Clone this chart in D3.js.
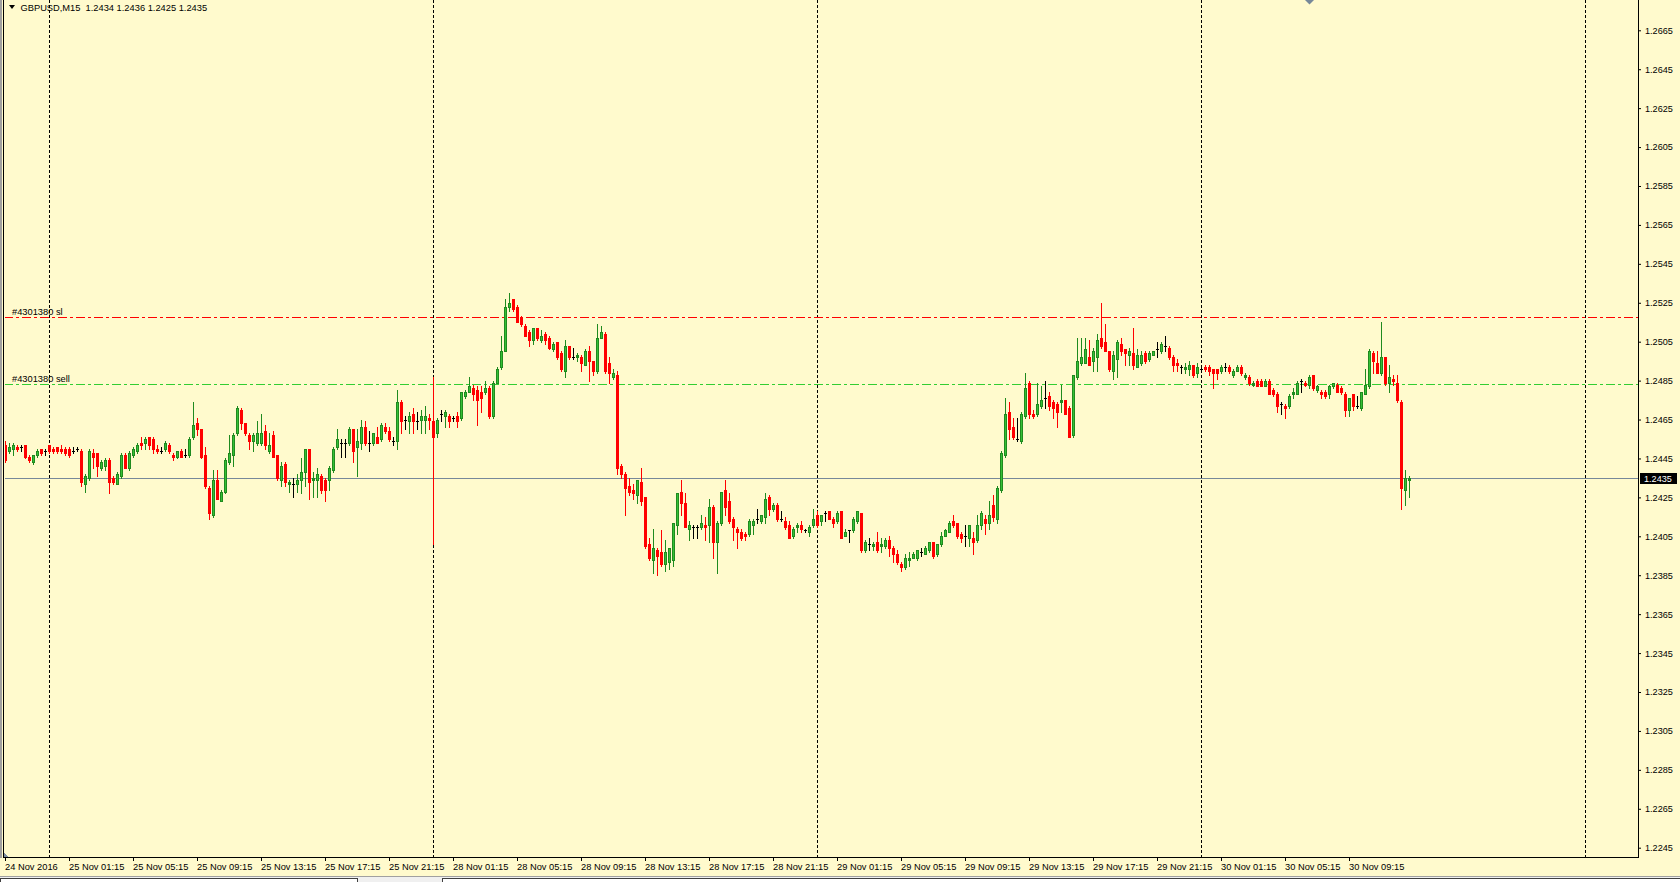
<!DOCTYPE html>
<html><head><meta charset="utf-8">
<script src="https://cdn.jsdelivr.net/npm/d3@7"></script>
<style>html,body{margin:0;padding:0;background:#FFFACD;overflow:hidden}text{font-family:"Liberation Sans",Arial,sans-serif;white-space:pre}</style>
</head><body><svg id="c" width="1680" height="882"></svg>
<script>
const symbol = "GBPUSD", timeframe = "M15";
const open = [
1.2452,1.2449,1.2450,1.2451,1.2451,1.2452,1.2446,1.2443,1.2447,1.2450,
1.2449,1.2452,1.2450,1.2451,1.2450,1.2450,1.2450,1.2449,1.2450,1.2449,
1.2432,1.2435,1.2448,1.2448,1.2440,1.2441,1.2444,1.2435,1.2432,1.2436,
1.2447,1.2440,1.2447,1.2449,1.2453,1.2453,1.2456,1.2455,1.2450,1.2449,
1.2450,1.2452,1.2447,1.2446,1.2449,1.2447,1.2447,1.2456,1.2463,1.2460,
1.2447,1.2430,1.2416,1.2434,1.2423,1.2428,1.2443,1.2447,1.2458,1.2470,
1.2463,1.2457,1.2454,1.2453,1.2453,1.2459,1.2449,1.2457,1.2447,1.2434,
1.2442,1.2432,1.2432,1.2432,1.2434,1.2438,1.2450,1.2434,1.2434,1.2436,
1.2434,1.2434,1.2439,1.2451,1.2453,1.2453,1.2453,1.2460,1.2451,1.2453,
1.2461,1.2453,1.2453,1.2456,1.2455,1.2461,1.2459,1.2454,1.2454,1.2474,
1.2465,1.2464,1.2468,1.2464,1.2465,1.2465,1.2466,1.2464,1.2458,1.2468,
1.2467,1.2467,1.2466,1.2467,1.2466,1.2477,1.2479,1.2481,1.2480,1.2479,
1.2479,1.2481,1.2467,1.2484,1.2492,1.2500,1.2523,1.2527,1.2523,1.2517,
1.2513,1.2510,1.2506,1.2512,1.2506,1.2509,1.2507,1.2501,1.2505,1.2499,
1.2490,1.2503,1.2497,1.2497,1.2497,1.2493,1.2500,1.2495,1.2490,1.2507,
1.2509,1.2494,1.2487,1.2488,1.2441,1.2437,1.2431,1.2429,1.2426,1.2433,
1.2425,1.2401,1.2393,1.2398,1.2397,1.2391,1.2392,1.2393,1.2411,1.2428,
1.2422,1.2409,1.2410,1.2410,1.2410,1.2411,1.2411,1.2420,1.2402,1.2412,
1.2429,1.2423,1.2414,1.2409,1.2407,1.2406,1.2406,1.2411,1.2414,1.2413,
1.2415,1.2425,1.2419,1.2421,1.2414,1.2413,1.2411,1.2405,1.2410,1.2411,
1.2408,1.2407,1.2411,1.2416,1.2413,1.2417,1.2418,1.2414,1.2413,1.2418,
1.2405,1.2408,1.2408,1.2413,1.2417,1.2398,1.2401,1.2400,1.2402,1.2400,
1.2400,1.2403,1.2399,1.2396,1.2391,1.2389,1.2393,1.2394,1.2394,1.2397,
1.2396,1.2398,1.2402,1.2396,1.2401,1.2405,1.2407,1.2413,1.2412,1.2406,
1.2405,1.2404,1.2404,1.2403,1.2411,1.2414,1.2412,1.2421,1.2414,1.2429,
1.2447,1.2469,1.2461,1.2455,1.2454,1.2467,1.2484,1.2468,1.2468,1.2472,
1.2476,1.2477,1.2474,1.2473,1.2474,1.2475,1.2471,1.2457,1.2487,1.2494,
1.2494,1.2497,1.2495,1.2497,1.2507,1.2505,1.2500,1.2490,1.2496,1.2504,
1.2501,1.2498,1.2499,1.2492,1.2494,1.2499,1.2496,1.2498,1.2501,1.2500,
1.2503,1.2502,1.2497,1.2494,1.2492,1.2491,1.2491,1.2493,1.2489,1.2491,
1.2492,1.2492,1.2491,1.2491,1.2490,1.2492,1.2492,1.2488,1.2490,1.2492,
1.2487,1.2487,1.2483,1.2485,1.2485,1.2482,1.2485,1.2480,1.2478,1.2473,
1.2472,1.2472,1.2478,1.2478,1.2485,1.2484,1.2483,1.2488,1.2480,1.2479,
1.2479,1.2478,1.2482,1.2483,1.2481,1.2478,1.2470,1.2478,1.2472,1.2471,
1.2478,1.2482,1.2499,1.2494,1.2489,1.2497,1.2484,1.2486,1.2484,1.2474,
1.2429,1.2434];
const high = [
1.2454,1.2453,1.2453,1.2452,1.2452,1.2452,1.2447,1.2447,1.2450,1.2450,
1.2450,1.2452,1.2451,1.2451,1.2452,1.2451,1.2451,1.2451,1.2451,1.2450,
1.2437,1.2450,1.2450,1.2448,1.2444,1.2445,1.2445,1.2436,1.2438,1.2448,
1.2448,1.2449,1.2451,1.2453,1.2456,1.2456,1.2456,1.2456,1.2452,1.2451,
1.2454,1.2453,1.2448,1.2449,1.2450,1.2450,1.2456,1.2474,1.2466,1.2460,
1.2451,1.2431,1.2439,1.2439,1.2429,1.2445,1.2457,1.2458,1.2472,1.2471,
1.2463,1.2458,1.2458,1.2464,1.2468,1.2462,1.2458,1.2459,1.2447,1.2443,
1.2443,1.2434,1.2435,1.2437,1.2445,1.2450,1.2450,1.2438,1.2440,1.2437,
1.2435,1.2441,1.2451,1.2460,1.2455,1.2455,1.2461,1.2460,1.2460,1.2465,
1.2464,1.2459,1.2458,1.2461,1.2463,1.2463,1.2461,1.2456,1.2480,1.2475,
1.2467,1.2469,1.2471,1.2469,1.2470,1.2472,1.2468,1.2487,1.2466,1.2470,
1.2470,1.2468,1.2467,1.2469,1.2479,1.2480,1.2487,1.2483,1.2482,1.2482,
1.2485,1.2482,1.2485,1.2492,1.2508,1.2527,1.2530,1.2527,1.2524,1.2518,
1.2514,1.2511,1.2512,1.2512,1.2511,1.2510,1.2508,1.2505,1.2505,1.2500,
1.2506,1.2503,1.2502,1.2499,1.2498,1.2501,1.2503,1.2495,1.2514,1.2513,
1.2510,1.2497,1.2491,1.2490,1.2442,1.2438,1.2435,1.2432,1.2434,1.2440,
1.2425,1.2404,1.2409,1.2399,1.2408,1.2403,1.2399,1.2412,1.2427,1.2434,
1.2427,1.2413,1.2411,1.2411,1.2416,1.2415,1.2424,1.2421,1.2413,1.2428,
1.2434,1.2427,1.2415,1.2410,1.2409,1.2407,1.2414,1.2414,1.2419,1.2416,
1.2427,1.2426,1.2422,1.2422,1.2418,1.2415,1.2413,1.2410,1.2412,1.2413,
1.2409,1.2411,1.2419,1.2418,1.2416,1.2418,1.2418,1.2415,1.2418,1.2418,
1.2409,1.2408,1.2415,1.2418,1.2417,1.2403,1.2404,1.2402,1.2407,1.2404,
1.2404,1.2405,1.2400,1.2398,1.2392,1.2396,1.2397,1.2397,1.2398,1.2399,
1.2400,1.2402,1.2402,1.2401,1.2407,1.2409,1.2413,1.2416,1.2412,1.2407,
1.2411,1.2411,1.2407,1.2416,1.2418,1.2416,1.2423,1.2426,1.2431,1.2449,
1.2476,1.2474,1.2466,1.2466,1.2469,1.2489,1.2485,1.2470,1.2484,1.2482,
1.2485,1.2479,1.2475,1.2474,1.2483,1.2475,1.2472,1.2488,1.2507,1.2507,
1.2507,1.2506,1.2502,1.2509,1.2525,1.2514,1.2500,1.2500,1.2506,1.2507,
1.2501,1.2502,1.2512,1.2501,1.2500,1.2500,1.2500,1.2500,1.2505,1.2505,
1.2508,1.2503,1.2498,1.2496,1.2493,1.2494,1.2495,1.2493,1.2494,1.2493,
1.2493,1.2493,1.2491,1.2491,1.2493,1.2494,1.2493,1.2491,1.2493,1.2493,
1.2489,1.2488,1.2485,1.2486,1.2486,1.2486,1.2486,1.2481,1.2479,1.2474,
1.2473,1.2478,1.2481,1.2485,1.2486,1.2485,1.2488,1.2488,1.2483,1.2480,
1.2480,1.2483,1.2484,1.2484,1.2482,1.2479,1.2476,1.2478,1.2477,1.2479,
1.2491,1.2501,1.2500,1.2500,1.2515,1.2497,1.2493,1.2488,1.2488,1.2475,
1.2439,1.2436];
const low = [
1.2443,1.2448,1.2447,1.2449,1.2449,1.2445,1.2443,1.2442,1.2446,1.2447,
1.2447,1.2448,1.2448,1.2448,1.2448,1.2447,1.2446,1.2448,1.2449,1.2431,
1.2428,1.2434,1.2440,1.2436,1.2439,1.2439,1.2427,1.2432,1.2432,1.2435,
1.2440,1.2439,1.2446,1.2448,1.2450,1.2450,1.2450,1.2448,1.2448,1.2448,
1.2449,1.2448,1.2444,1.2445,1.2446,1.2446,1.2446,1.2455,1.2457,1.2445,
1.2430,1.2414,1.2415,1.2424,1.2423,1.2427,1.2442,1.2441,1.2457,1.2460,
1.2457,1.2450,1.2449,1.2452,1.2452,1.2450,1.2448,1.2446,1.2434,1.2431,
1.2431,1.2428,1.2425,1.2428,1.2427,1.2431,1.2424,1.2425,1.2425,1.2427,
1.2423,1.2429,1.2438,1.2450,1.2446,1.2446,1.2452,1.2443,1.2436,1.2450,
1.2452,1.2449,1.2452,1.2453,1.2454,1.2458,1.2454,1.2452,1.2450,1.2458,
1.2460,1.2458,1.2458,1.2460,1.2458,1.2458,1.2460,1.2401,1.2456,1.2464,
1.2461,1.2461,1.2464,1.2461,1.2465,1.2476,1.2479,1.2475,1.2462,1.2469,
1.2478,1.2466,1.2466,1.2484,1.2491,1.2500,1.2521,1.2521,1.2515,1.2513,
1.2508,1.2503,1.2504,1.2506,1.2505,1.2504,1.2501,1.2500,1.2496,1.2490,
1.2487,1.2496,1.2496,1.2495,1.2490,1.2493,1.2485,1.2488,1.2489,1.2507,
1.2489,1.2484,1.2486,1.2437,1.2435,1.2416,1.2426,1.2424,1.2422,1.2421,
1.2399,1.2393,1.2386,1.2385,1.2390,1.2387,1.2388,1.2390,1.2406,1.2416,
1.2410,1.2403,1.2404,1.2404,1.2409,1.2403,1.2402,1.2394,1.2386,1.2411,
1.2416,1.2412,1.2403,1.2399,1.2403,1.2403,1.2405,1.2406,1.2412,1.2412,
1.2412,1.2416,1.2418,1.2413,1.2413,1.2409,1.2404,1.2404,1.2407,1.2407,
1.2407,1.2405,1.2410,1.2410,1.2411,1.2413,1.2414,1.2410,1.2412,1.2404,
1.2405,1.2402,1.2407,1.2412,1.2397,1.2397,1.2398,1.2398,1.2397,1.2397,
1.2399,1.2395,1.2392,1.2391,1.2387,1.2388,1.2390,1.2394,1.2393,1.2395,
1.2396,1.2397,1.2394,1.2395,1.2400,1.2405,1.2407,1.2410,1.2404,1.2402,
1.2400,1.2400,1.2396,1.2402,1.2409,1.2406,1.2409,1.2413,1.2412,1.2428,
1.2446,1.2455,1.2455,1.2454,1.2453,1.2466,1.2466,1.2466,1.2467,1.2471,
1.2471,1.2470,1.2466,1.2461,1.2469,1.2468,1.2456,1.2456,1.2486,1.2493,
1.2494,1.2493,1.2490,1.2490,1.2502,1.2500,1.2490,1.2486,1.2487,1.2498,
1.2493,1.2493,1.2491,1.2492,1.2493,1.2494,1.2495,1.2498,1.2497,1.2499,
1.2500,1.2496,1.2490,1.2490,1.2489,1.2489,1.2488,1.2487,1.2487,1.2490,
1.2490,1.2488,1.2481,1.2486,1.2489,1.2490,1.2489,1.2487,1.2490,1.2488,
1.2486,1.2483,1.2482,1.2482,1.2482,1.2482,1.2478,1.2477,1.2469,1.2468,
1.2466,1.2471,1.2476,1.2478,1.2479,1.2482,1.2481,1.2480,1.2479,1.2476,
1.2476,1.2476,1.2481,1.2479,1.2478,1.2467,1.2467,1.2470,1.2471,1.2470,
1.2478,1.2481,1.2489,1.2489,1.2488,1.2483,1.2479,1.2483,1.2474,1.2419,
1.2421,1.2425];
const close = [
1.2444,1.2451,1.2452,1.2450,1.2451,1.2446,1.2444,1.2447,1.2449,1.2448,
1.2449,1.2449,1.2449,1.2449,1.2449,1.2448,1.2447,1.2449,1.2450,1.2433,
1.2436,1.2449,1.2446,1.2441,1.2443,1.2444,1.2433,1.2433,1.2437,1.2447,
1.2440,1.2448,1.2450,1.2452,1.2452,1.2455,1.2452,1.2450,1.2449,1.2449,
1.2453,1.2449,1.2446,1.2449,1.2446,1.2447,1.2455,1.2462,1.2460,1.2446,
1.2431,1.2417,1.2434,1.2424,1.2428,1.2444,1.2448,1.2457,1.2471,1.2463,
1.2458,1.2454,1.2457,1.2458,1.2458,1.2452,1.2452,1.2446,1.2435,1.2441,
1.2433,1.2433,1.2432,1.2434,1.2438,1.2450,1.2433,1.2435,1.2437,1.2429,
1.2429,1.2440,1.2450,1.2455,1.2453,1.2453,1.2460,1.2449,1.2454,1.2461,
1.2453,1.2453,1.2458,1.2453,1.2462,1.2459,1.2455,1.2454,1.2474,1.2464,
1.2465,1.2467,1.2464,1.2464,1.2467,1.2467,1.2465,1.2456,1.2465,1.2468,
1.2469,1.2464,1.2466,1.2464,1.2479,1.2479,1.2482,1.2478,1.2475,1.2476,
1.2481,1.2467,1.2484,1.2491,1.2500,1.2523,1.2525,1.2522,1.2515,1.2514,
1.2508,1.2506,1.2512,1.2507,1.2508,1.2506,1.2502,1.2504,1.2497,1.2491,
1.2503,1.2497,1.2497,1.2498,1.2494,1.2500,1.2495,1.2490,1.2507,1.2510,
1.2490,1.2489,1.2489,1.2440,1.2437,1.2430,1.2428,1.2427,1.2434,1.2423,
1.2400,1.2394,1.2399,1.2395,1.2391,1.2397,1.2399,1.2412,1.2427,1.2422,
1.2410,1.2411,1.2410,1.2410,1.2412,1.2410,1.2420,1.2402,1.2412,1.2428,
1.2420,1.2413,1.2410,1.2407,1.2404,1.2405,1.2413,1.2413,1.2414,1.2416,
1.2424,1.2419,1.2421,1.2414,1.2414,1.2410,1.2404,1.2409,1.2411,1.2409,
1.2408,1.2410,1.2414,1.2411,1.2416,1.2417,1.2414,1.2412,1.2417,1.2404,
1.2407,1.2408,1.2414,1.2418,1.2398,1.2402,1.2401,1.2401,1.2398,1.2401,
1.2403,1.2399,1.2396,1.2392,1.2389,1.2394,1.2394,1.2396,1.2398,1.2397,
1.2399,1.2402,1.2395,1.2401,1.2405,1.2408,1.2412,1.2411,1.2405,1.2404,
1.2405,1.2411,1.2402,1.2411,1.2417,1.2412,1.2416,1.2415,1.2430,1.2448,
1.2468,1.2460,1.2456,1.2455,1.2468,1.2481,1.2468,1.2467,1.2473,1.2475,
1.2476,1.2472,1.2471,1.2469,1.2475,1.2468,1.2456,1.2488,1.2495,1.2497,
1.2501,1.2493,1.2500,1.2506,1.2503,1.2500,1.2491,1.2498,1.2505,1.2500,
1.2499,1.2500,1.2493,1.2498,1.2498,1.2495,1.2499,1.2500,1.2501,1.2504,
1.2503,1.2497,1.2493,1.2493,1.2492,1.2492,1.2493,1.2488,1.2492,1.2491,
1.2491,1.2490,1.2489,1.2489,1.2492,1.2492,1.2490,1.2490,1.2492,1.2489,
1.2488,1.2484,1.2484,1.2482,1.2482,1.2485,1.2478,1.2478,1.2472,1.2473,
1.2471,1.2477,1.2479,1.2484,1.2485,1.2483,1.2487,1.2481,1.2482,1.2478,
1.2477,1.2482,1.2484,1.2479,1.2479,1.2470,1.2476,1.2472,1.2472,1.2479,
1.2483,1.2500,1.2495,1.2489,1.2497,1.2484,1.2487,1.2485,1.2475,1.2430,
1.2435,1.2435];

// time axis labels: one every 16 bars (4 hours of M15), starting at bar 0
const timeLabels = ["24 Nov 2016","25 Nov 01:15","25 Nov 05:15","25 Nov 09:15","25 Nov 13:15","25 Nov 17:15","25 Nov 21:15",
  "28 Nov 01:15","28 Nov 05:15","28 Nov 09:15","28 Nov 13:15","28 Nov 17:15","28 Nov 21:15",
  "29 Nov 01:15","29 Nov 05:15","29 Nov 09:15","29 Nov 13:15","29 Nov 17:15","29 Nov 21:15",
  "30 Nov 01:15","30 Nov 05:15","30 Nov 09:15"];
const timeLabelBars = [0,16,32,48,64,80,96,112,128,144,160,176,192,208,224,240,256,272,288,304,320,336];
// day-start bars (00:00) used for the vertical grid
const dayStartBars = [11,107,203,299,395];
const priceTicks = [1.2245,1.2265,1.2285,1.2305,1.2325,1.2345,1.2365,1.2385,1.2405,1.2425,1.2445,
  1.2465,1.2485,1.2505,1.2525,1.2545,1.2565,1.2585,1.2605,1.2625,1.2645,1.2665];
const orderId = "#4301380";
const stopLoss = 1.2517, sellPrice = 1.2483;

const W = 1680, H = 882;
const L = 4, R = 1638, T = 0, B = 857;
const N = open.length;
const bg = "#FFFACD";
const svg = d3.select("#c");
svg.append("rect").attr("width", W).attr("height", H).attr("fill", bg);

const x = d3.scaleLinear().domain([0, 408]).range([5, 5 + 4 * 408]);
const y = d3.scaleLinear().domain([1.2245, 1.2665]).range([847.7, 30.3]);
const fmt = d3.format(".4f");

svg.append("defs").append("clipPath").attr("id", "pc").append("rect")
  .attr("x", L + 1).attr("y", T).attr("width", R - L - 1).attr("height", B - T);
const plot = svg.append("g").attr("clip-path", "url(#pc)").attr("shape-rendering", "crispEdges");

// vertical grid at day starts
plot.selectAll("line.grid").data(dayStartBars).join("line")
  .attr("x1", d => x(d) + 0.5).attr("x2", d => x(d) + 0.5).attr("y1", T).attr("y2", B)
  .attr("stroke", "#000").attr("stroke-dasharray", "3,2");

// order lines
const ly = v => Math.round(y(v)) - 0.5;
plot.append("line").attr("x1", L).attr("x2", R).attr("y1", ly(stopLoss)).attr("y2", ly(stopLoss))
  .attr("stroke", "#FF0000").attr("stroke-dasharray", "9,3,3,3");
plot.append("line").attr("x1", L).attr("x2", R).attr("y1", ly(sellPrice)).attr("y2", ly(sellPrice))
  .attr("stroke", "#32CD32").attr("stroke-dasharray", "9,3,3,3");
const bid = close[N - 1];
plot.append("line").attr("x1", L).attr("x2", R).attr("y1", Math.round(y(bid)) + 0.5).attr("y2", Math.round(y(bid)) + 0.5)
  .attr("stroke", "#778899");

svg.append("text").attr("x", 12).attr("y", Math.round(y(stopLoss)) - 3).attr("font-size", 9.3).attr("fill", "#000").text(orderId + " sl");
svg.append("text").attr("x", 12).attr("y", Math.round(y(sellPrice)) - 3).attr("font-size", 9.3).attr("fill", "#000").text(orderId + " sell");

// candles
const bars = d3.range(N).map(i => ({i, o: open[i], h: high[i], l: low[i], c: close[i]}));
const upDark = "#1F8A1F", upFill = "#35C035", down = "#FF0000", doji = "#000000";
const col = d => d.c > d.o ? upDark : (d.c < d.o ? down : doji);
const cg = plot.append("g");
cg.selectAll("rect.wick").data(bars).join("rect")
  .attr("x", d => x(d.i)).attr("width", 1)
  .attr("y", d => Math.round(y(d.h))).attr("height", d => Math.round(y(d.l)) - Math.round(y(d.h)) + 1)
  .attr("fill", col);
cg.selectAll("rect.body").data(bars).join("rect")
  .attr("x", d => x(d.i) - 1).attr("width", 3)
  .attr("y", d => Math.round(y(Math.max(d.o, d.c))))
  .attr("height", d => Math.round(y(Math.min(d.o, d.c))) - Math.round(y(Math.max(d.o, d.c))) + 1)
  .attr("fill", col);
cg.selectAll("rect.inner").data(bars.filter(d => d.c > d.o && (y(d.o) - y(d.c)) > 2.5)).join("rect")
  .attr("x", d => x(d.i)).attr("width", 1)
  .attr("y", d => Math.round(y(d.c)) + 1)
  .attr("height", d => Math.round(y(d.o)) - Math.round(y(d.c)) - 1)
  .attr("fill", upFill);

// frame
const frame = svg.append("g").attr("shape-rendering", "crispEdges");
frame.append("rect").attr("x", 0).attr("y", 0).attr("width", 2).attr("height", B + 1).attr("fill", "#A0A0A0");
frame.append("line").attr("x1", 3.5).attr("x2", 3.5).attr("y1", 0).attr("y2", B + 1).attr("stroke", "#000");
frame.append("line").attr("x1", R + 0.5).attr("x2", R + 0.5).attr("y1", 0).attr("y2", B + 1).attr("stroke", "#000");
frame.append("line").attr("x1", 3).attr("x2", R + 1).attr("y1", B + 0.5).attr("y2", B + 0.5).attr("stroke", "#000");
frame.append("path").attr("d", `M${L},${B - 4}L${L + 4},${B}L${L},${B}Z`).attr("fill", "#8090A0");

// price axis
const yAxis = svg.append("g").attr("transform", `translate(${R},0)`)
  .call(d3.axisRight(y).tickValues(priceTicks).tickSize(3).tickPadding(4).tickFormat(fmt));
yAxis.select(".domain").remove();
yAxis.selectAll("line").attr("stroke", "#000");
yAxis.selectAll("text").attr("font-size", 9.1).attr("font-family", "Liberation Sans, Arial, sans-serif").attr("fill", "#000");

// time axis
const xAxis = svg.append("g").attr("transform", `translate(0,${B})`)
  .call(d3.axisBottom(x).tickValues(timeLabelBars).tickSize(4).tickFormat((d, i) => timeLabels[i]));
xAxis.select(".domain").remove();
xAxis.selectAll("line").attr("stroke", "#000");
xAxis.selectAll("text").attr("font-size", 9.3).attr("font-family", "Liberation Sans, Arial, sans-serif").attr("fill", "#000")
  .attr("text-anchor", "start").attr("x", -0.5).attr("y", 12.5).attr("dy", 0);

// bid label
const by = Math.round(y(bid));
svg.append("rect").attr("x", R + 2).attr("y", by - 5).attr("width", 37).attr("height", 11).attr("fill", "#000");
svg.append("text").attr("x", R + 6).attr("y", by + 3.5).attr("font-size", 9.1).attr("fill", "#fff").text(fmt(bid));

// title
svg.append("path").attr("d", "M9,5L15,5L12,9Z").attr("fill", "#000");
svg.append("text").attr("x", 20.5).attr("y", 10.5).attr("font-size", 9.3).attr("fill", "#000")
  .text(`${symbol},${timeframe}  ${fmt(open[N-1])} ${fmt(high[N-1])} ${fmt(low[N-1])} ${fmt(close[N-1])}`);

// chart shift marker
svg.append("path").attr("d", `M${x(326) - 4},0L${x(326) + 5},0L${x(326) + 0.5},4.5Z`).attr("fill", "#778899");

// bottom tab strip
svg.append("rect").attr("x", 0).attr("y", 876).attr("width", W).attr("height", 6).attr("fill", "#F0F0F0");
svg.append("line").attr("x1", 0).attr("x2", W).attr("y1", 876.5).attr("y2", 876.5).attr("stroke", "#A0A0A0");
svg.append("rect").attr("x", 0.5).attr("y", 878.5).attr("width", 357).attr("height", 5).attr("fill", "#fff").attr("stroke", "#404040");
svg.append("rect").attr("x", 442.5).attr("y", 878.5).attr("width", 1300).attr("height", 5).attr("fill", "#fff").attr("stroke", "#404040");
</script></body></html>
